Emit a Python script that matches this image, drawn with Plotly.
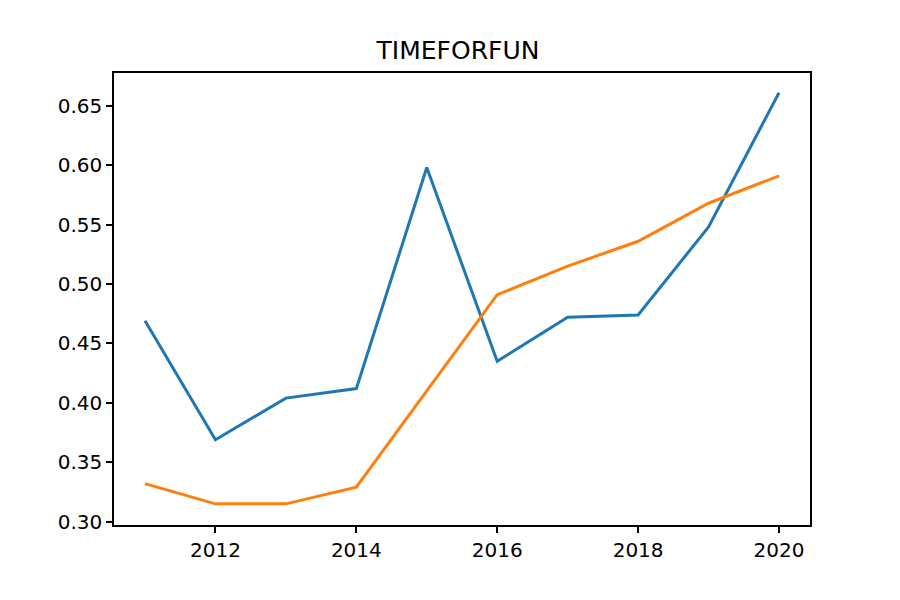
import plotly.graph_objects as go

years = [2011, 2012, 2013, 2014, 2015, 2016, 2017, 2018, 2019, 2020]
blue_vals = [0.469, 0.369, 0.404, 0.412, 0.598, 0.435, 0.472, 0.474, 0.548, 0.661]
orange_vals = [0.332, 0.315, 0.315, 0.329, 0.410, 0.491, 0.515, 0.536, 0.568, 0.591]
y_ticks = [0.30, 0.35, 0.40, 0.45, 0.50, 0.55, 0.60, 0.65]
x_ticks = [2012, 2014, 2016, 2018, 2020]

fig = go.Figure()
fig.add_trace(go.Scatter(x=years, y=blue_vals, mode="lines",
                         line=dict(color="#1f77b4", width=3)))
fig.add_trace(go.Scatter(x=years, y=orange_vals, mode="lines",
                         line=dict(color="#ff7f0e", width=3)))

axis_style = dict(showgrid=False, zeroline=False, showline=True, linecolor="black",
                  linewidth=1.5, mirror=True, ticks="outside", ticklen=6,
                  tickwidth=1.5, tickcolor="black",
                  tickfont=dict(family="DejaVu Sans", size=20, color="black"))

fig.update_xaxes(range=[2010.56, 2020.44], tickvals=x_ticks, **axis_style)
fig.update_yaxes(range=[0.2972, 0.6776], tickvals=y_ticks,
                 ticktext=[f"{v:.2f}" for v in y_ticks], **axis_style)

fig.update_layout(
    width=900, height=600,
    margin=dict(l=106, r=98, t=65, b=83),
    paper_bgcolor="white", plot_bgcolor="white",
    showlegend=False,
    title=dict(text="TIMEFORFUN", x=0.5, xanchor="center", y=0.929, yanchor="middle",
               font=dict(family="DejaVu Sans", size=25, color="black")),
)

fig.write_html("out.html")
